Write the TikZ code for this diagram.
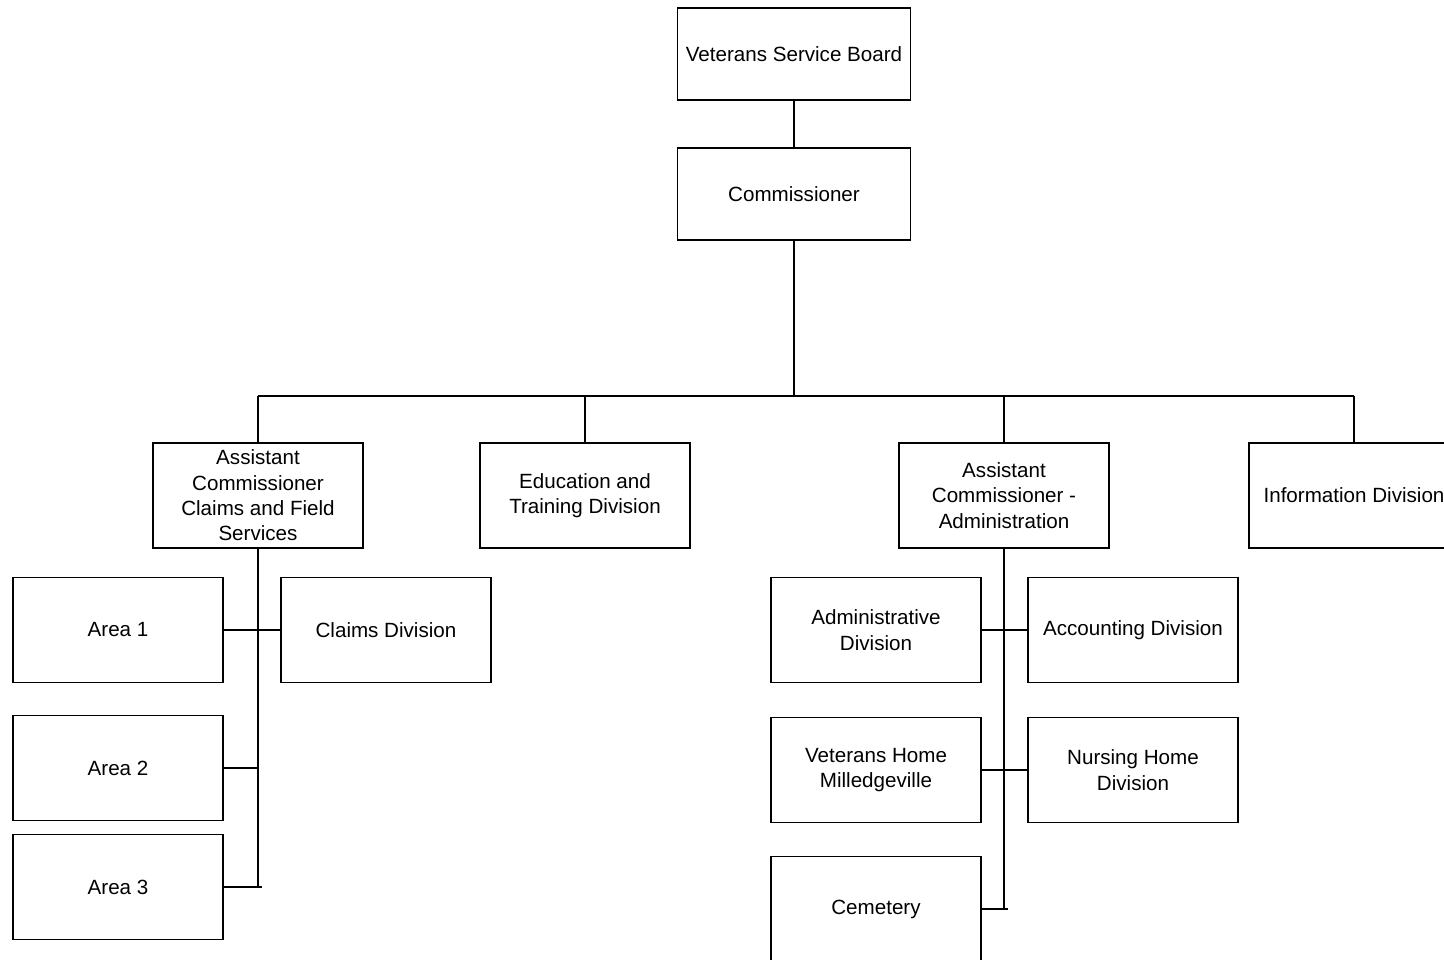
\documentclass[tikz,border=0pt]{standalone}
\usepackage{fontspec}
\setmainfont{Liberation Sans}
\begin{document}
\begin{tikzpicture}[x=0.5pt,y=-0.5pt,
  box/.style={draw, line width=0.8pt, inner sep=0pt, align=center,
    minimum width=105pt, minimum height=52.5pt,
    font=\fontsize{10.3pt}{12.65pt}\selectfont},
  topbox/.style={box, minimum width=116.5pt, minimum height=46pt},
  conn/.style={line width=0.8pt}]
\useasboundingbox (0,0) rectangle (1444,959);
\node[topbox] (vsb) at (794,54) {Veterans Service Board};
\node[topbox] (comm) at (794,194) {Commissioner};
\node[box] (accfs) at (258,495.5) {Assistant\\Commissioner\\Claims and Field\\Services};
\node[box] (edu) at (585,495.5) {Education and\\Training Division};
\node[box] (aca) at (1004,495.5) {Assistant\\Commissioner -\\Administration};
\node[box] (info) at (1354,495.5) {Information Division};
\node[box] (area1) at (118,630) {Area 1};
\node[box] (claims) at (386,630) {Claims Division};
\node[box] (area2) at (118,768) {Area 2};
\node[box] (area3) at (118,887) {Area 3};
\node[box] (admin) at (876,630) {Administrative\\Division};
\node[box] (acct) at (1133,630) {Accounting Division};
\node[box] (vhome) at (876,770) {Veterans Home\\Milledgeville};
\node[box] (nurse) at (1133,770) {Nursing Home\\Division};
\node[box] (cem) at (876,909) {Cemetery};
\coordinate (busL) at (258,396);
\coordinate (busR) at (1354,396);
\coordinate (ltend) at (262,887);
\coordinate (rtend) at (1008,909);
\draw[conn] (vsb) -- (comm);
\draw[conn] (comm.south) -- (comm.south |- busL);
\draw[conn] (busL) -- (busR);
\draw[conn] (busL) -- (accfs.north);
\draw[conn] (edu.north |- busL) -- (edu.north);
\draw[conn] (aca.north |- busL) -- (aca.north);
\draw[conn] (busR) -- (info.north);
\draw[conn] (accfs.south) -- (accfs.south |- area3.east);
\draw[conn] (area1.east) -- (claims.west);
\draw[conn] (area2.east) -- (area2.east -| accfs.south);
\draw[conn] (area3.east) -- (ltend);
\draw[conn] (aca.south) -- (aca.south |- cem.east);
\draw[conn] (admin.east) -- (acct.west);
\draw[conn] (vhome.east) -- (nurse.west);
\draw[conn] (cem.east) -- (rtend);
\end{tikzpicture}
\end{document}
